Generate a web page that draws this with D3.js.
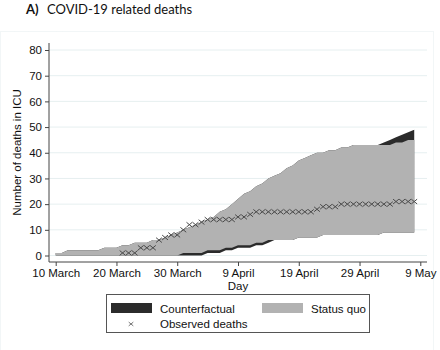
<!DOCTYPE html>
<html>
<head>
<meta charset="utf-8">
<script src="https://cdn.jsdelivr.net/npm/d3@7"></script>
<style>
  body { margin: 0; background: #fff; }
  svg { display: block; font-family: "Liberation Sans", Arial, sans-serif; }
</style>
</head>
<body>
<svg id="chart" width="440" height="350"></svg>
<script>
// data: one value per day from 10 March (day 0) to 8 May (day 59)
const startDate = new Date(2020, 2, 10)
const sqHi = [1,1,2,2,2,2,2,2,3,3, 3,4,4,5,5,5,6,6,7,8, 9,10,11,12,13,14,15,17,18,20,
  22,24,25,27,28,30,31,32,34,35, 37,38,39,40,40,41,41,42,42,43, 43,43,43,43,43,43,44,44,45,45]
const sqLo = [0,0,0,0,0,0,0,0,0,0, 0,0,0,0,0,0,0,0,0,0, 0,1,1,1,1,2,2,2,3,3,
  4,4,4,5,5,6,6,6,6,6, 7,7,7,7,8,8,8,8,8,8, 8,8,8,8,9,9,9,9,9,9]
const cfHi = [1,1,2,2,2,2,2,2,3,3, 3,4,4,5,5,5,6,6,7,8, 9,10,11,12,13,14,15,17,18,20,
  22,24,25,27,28,30,31,32,34,35, 37,38,39,40,40,41,41,42,42,43, 43,43,43,43,44,45,46,47,48,49]
const cfLo = [0,0,0,0,0,0,0,0,0,0, 0,0,0,0,0,0,0,0,0,0, 0,0,0,0,0,1,1,1,2,2,
  3,3,3,4,4,5,6,6,6,6, 7,7,7,7,8,8,8,8,8,8, 8,8,8,8,9,9,9,9,9,9]
// observed deaths from day 11 (21 March)
const observedStart = 11
const observed = [1,1,1,3,3,3,6,7,8,8, 10,12,12,13,14,14,14,14,14,15,
  15,16,17,17,17,17,17,17,17,17, 17,17,18,19,19,19,20,20,20,20,
  20,20,20,20,20,21,21,21,21]

const xTicks = ['10 March', '20 March', '30 March', '9 April', '19 April', '29 April', '9 May']
const yTicks = [0, 10, 20, 30, 40, 50, 60, 70, 80]

const day = i => d3.timeDay.offset(startDate, i)

const svg = d3.select('#chart')

// faint outer graph region
svg.append('rect')
  .attr('x', 0.5).attr('y', 31.5)
  .attr('width', 433).attr('height', 330)
  .attr('fill', 'none')
  .attr('stroke', '#e4ecee')
  .attr('stroke-dasharray', '1,1')

// title
const title = svg.append('text')
  .attr('x', 26).attr('y', 14)
  .style('font-family', 'Lato, "Open Sans", sans-serif')
  .style('font-size', '13px')
  .attr('fill', '#111')
title.append('tspan').attr('font-weight', 'bold').text('A)')
title.append('tspan').attr('x', 47).text('COVID-19 related deaths')

const x = d3.scaleTime()
  .domain([startDate, day(60)])
  .range([55.7, 420.3])

const y = d3.scaleLinear()
  .domain([0, 80])
  .range([255.5, 50])

const plotLeft = 49, plotRight = 427, plotTop = 43, plotBottom = 262

// gridlines
svg.append('g')
  .selectAll('line')
  .data(yTicks)
  .enter()
  .append('line')
  .attr('x1', plotLeft).attr('x2', plotRight)
  .attr('y1', d => y(d)).attr('y2', d => y(d))
  .attr('stroke', '#e6eff0')
  .attr('stroke-width', 1)

const days = d3.range(sqHi.length)

const band = (lo, hi) => d3.area()
  .x(i => x(day(i)))
  .y0(i => y(lo[i]))
  .y1(i => y(hi[i]))

svg.append('path')
  .datum(days)
  .attr('d', band(cfLo, cfHi))
  .attr('fill', '#2b2b2b')

svg.append('path')
  .datum(days)
  .attr('d', band(sqLo, sqHi))
  .attr('fill', '#b2b2b2')

// observed deaths markers
const cross = 'M-2.9,-2.4L2.9,2.4M-2.9,2.4L2.9,-2.4'
svg.append('g')
  .selectAll('path')
  .data(observed)
  .enter()
  .append('path')
  .attr('transform', (d, i) => `translate(${x(day(observedStart + i))},${y(d)})`)
  .attr('d', cross)
  .attr('stroke', '#4a4a4a')
  .attr('stroke-width', 1)
  .attr('fill', 'none')

// axes
const yAxis = d3.axisLeft(y)
  .tickValues(yTicks)
  .tickSize(4)
  .tickPadding(3)

const yG = svg.append('g')
  .attr('transform', `translate(${plotLeft},0)`)
  .call(yAxis)
yG.select('.domain').remove()
yG.append('line')
  .attr('x1', 0).attr('x2', 0)
  .attr('y1', plotTop).attr('y2', plotBottom)
  .attr('stroke', '#444')
yG.selectAll('.tick line').attr('stroke', '#444')
yG.selectAll('.tick text')
  .style('font-size', '11.5px')
  .style('font-family', '"Liberation Sans", Arial, sans-serif')
  .attr('fill', '#111')

const xAxis = d3.axisBottom(x)
  .tickValues(d3.range(0, 61, 10).map(day))
  .tickFormat((d, i) => xTicks[i])
  .tickSize(4)
  .tickPadding(3)

const xG = svg.append('g')
  .attr('transform', `translate(0,${plotBottom})`)
  .call(xAxis)
xG.select('.domain').remove()
xG.append('line')
  .attr('x1', plotLeft).attr('x2', plotRight)
  .attr('y1', 0).attr('y2', 0)
  .attr('stroke', '#444')
xG.selectAll('.tick line').attr('stroke', '#444')
xG.selectAll('.tick text')
  .style('font-size', '11.5px')
  .style('font-family', '"Liberation Sans", Arial, sans-serif')
  .attr('fill', '#111')

// axis titles
svg.append('text')
  .attr('x', (plotLeft + plotRight) / 2)
  .attr('y', 290)
  .attr('text-anchor', 'middle')
  .style('font-size', '11.5px')
  .attr('fill', '#111')
  .text('Day')

svg.append('text')
  .attr('transform', `translate(21,${(plotTop + plotBottom) / 2}) rotate(-90)`)
  .attr('text-anchor', 'middle')
  .style('font-size', '11.5px')
  .attr('fill', '#111')
  .text('Number of deaths in ICU')

// legend
const legend = svg.append('g')
svg.append('rect')
  .attr('x', 106.5).attr('y', 294.5)
  .attr('width', 263).attr('height', 38)
  .attr('fill', 'none')
  .attr('stroke', '#555')

legend.append('rect')
  .attr('x', 111).attr('y', 303).attr('width', 41).attr('height', 10)
  .attr('fill', '#2b2b2b')
legend.append('text')
  .attr('x', 160).attr('y', 313)
  .style('font-size', '11.5px').attr('fill', '#111')
  .text('Counterfactual')

legend.append('rect')
  .attr('x', 262).attr('y', 303).attr('width', 41).attr('height', 10)
  .attr('fill', '#b2b2b2')
legend.append('text')
  .attr('x', 311).attr('y', 313)
  .style('font-size', '11.5px').attr('fill', '#111')
  .text('Status quo')

legend.append('path')
  .attr('transform', 'translate(131,324)')
  .attr('d', 'M-2.3,-1.9L2.3,1.9M-2.3,1.9L2.3,-1.9')
  .attr('stroke', '#555')
  .attr('stroke-width', 0.8)
  .attr('fill', 'none')
legend.append('text')
  .attr('x', 160).attr('y', 328)
  .style('font-size', '11.5px').attr('fill', '#111')
  .text('Observed deaths')
</script>
</body>
</html>
